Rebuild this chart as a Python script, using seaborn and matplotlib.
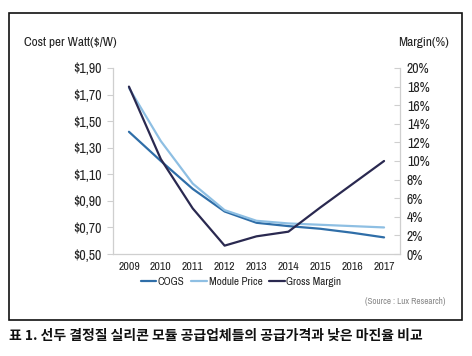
import matplotlib
matplotlib.use("Agg")
import matplotlib.pyplot as plt
import seaborn as sns
import pandas as pd
import numpy as np
from matplotlib.patches import Rectangle
from matplotlib.lines import Line2D

years = ["2009", "2010", "2011", "2012", "2013", "2014", "2015", "2016", "2017"]
cogs = [1.42, 1.20, 0.99, 0.82, 0.735, 0.71, 0.69, 0.66, 0.625]
module_price = [1.75, 1.35, 1.03, 0.83, 0.75, 0.73, 0.72, 0.71, 0.70]
gross_margin = [18.0, 10.2, 4.9, 0.9, 1.9, 2.4, 5.0, 7.5, 10.0]
left_ticks = [0.50, 0.70, 0.90, 1.10, 1.30, 1.50, 1.70, 1.90]
left_tick_labels = ["$0,50", "$0,70", "$0,90", "$1,10", "$1,30", "$1,50", "$1,70", "$1,90"]
right_ticks = [0, 2, 4, 6, 8, 10, 12, 14, 16, 18, 20]
right_tick_labels = [f"{v}%" for v in right_ticks]

c_cogs = "#2f6ea8"
c_mod = "#8ebfe3"
c_gm = "#2a2950"

sns.set_theme(style="white")
plt.rcParams["font.family"] = ["Archivo Narrow", "DejaVu Sans"]

fig = plt.figure(figsize=(4.72, 3.56), dpi=100)
ax = fig.add_axes([113/472, 1-254/356, (400-113)/472, (254-68)/356])

xpos = np.arange(len(years))
df = pd.DataFrame({
    "x": np.concatenate([xpos, xpos]),
    "val": cogs + module_price,
    "series": ["COGS"] * len(years) + ["Module Price"] * len(years),
})
sns.lineplot(data=df, x="x", y="val", hue="series",
             palette={"COGS": c_cogs, "Module Price": c_mod},
             linewidth=1.6, ax=ax, legend=False)

ax2 = ax.twinx()
dfm = pd.DataFrame({"x": xpos, "gm": gross_margin})
sns.lineplot(data=dfm, x="x", y="gm", color=c_gm, linewidth=1.6, ax=ax2, legend=False)

ax.set_xlim(-0.5, len(years) - 0.5)
ax.set_ylim(0.5, 1.9)
ax2.set_ylim(0, 20)

ax.set_xticks(xpos)
ax.set_xticklabels(years)
ax.set_xticks(np.arange(-0.5, len(years), 1), minor=True)
ax.set_yticks(left_ticks)
ax.set_yticklabels(left_tick_labels)
ax2.set_yticks(right_ticks)
ax2.set_yticklabels(right_tick_labels)

for a in (ax, ax2):
    a.set_xlabel("")
    a.set_ylabel("")
    for s in a.spines.values():
        s.set_visible(False)
    a.grid(False)

ax.spines["left"].set_visible(True)
ax.spines["bottom"].set_visible(True)
ax2.spines["right"].set_visible(True)
gcol = "#cfcfcf"
for s in (ax.spines["left"], ax.spines["bottom"], ax2.spines["right"]):
    s.set_color(gcol)
    s.set_linewidth(0.9)

ax.tick_params(axis="x", which="major", length=0, labelsize=8.5, colors="#222222", pad=6)
ax.tick_params(axis="x", which="minor", length=4, color=gcol, width=0.8)
ax.tick_params(axis="y", length=4, color=gcol, width=0.8, labelsize=10, labelcolor="#222222", pad=4, left=True)
ax2.tick_params(axis="y", length=4, color=gcol, width=0.8, labelsize=10, labelcolor="#222222", pad=5, right=True, direction="in")

fig.text(24/472, 1-42/356, "Cost per Watt($/W)", fontsize=9.5, color="#222222", va="center", ha="left")
fig.text(398/472, 1-42/356, "Margin(%)", fontsize=9.5, color="#222222", va="center", ha="left")

handles = [Line2D([], [], color=c_cogs, lw=1.6),
           Line2D([], [], color=c_mod, lw=1.6),
           Line2D([], [], color=c_gm, lw=1.6)]
fig.legend(handles, ["COGS", "Module Price", "Gross Margin"], ncol=3, frameon=False,
           loc="center", bbox_to_anchor=(241/472, 1-282/356), fontsize=8,
           handlelength=1.4, handletextpad=0.15, columnspacing=0.6, labelcolor="#222222")

fig.text(445/472, 1-302/356, "(Source : Lux Research)", fontsize=6.5, color="#888888", ha="right", va="center")

fig.add_artist(Rectangle((9/472, 1-320/356), (462-9)/472, (320-13)/356,
                         transform=fig.transFigure, fill=False, edgecolor="#111111", linewidth=1.2))

fig.text(9/472, 1-336/356, "표 1. 선두 결정질 실리콘 모듈 공급업체들의 공급가격과 낮은 마진율 비교",
         fontsize=10, fontweight="bold", color="#111111", ha="left", va="center",
         family=["Noto Sans CJK KR", "DejaVu Sans"])

fig.savefig("out.png", dpi=100)
